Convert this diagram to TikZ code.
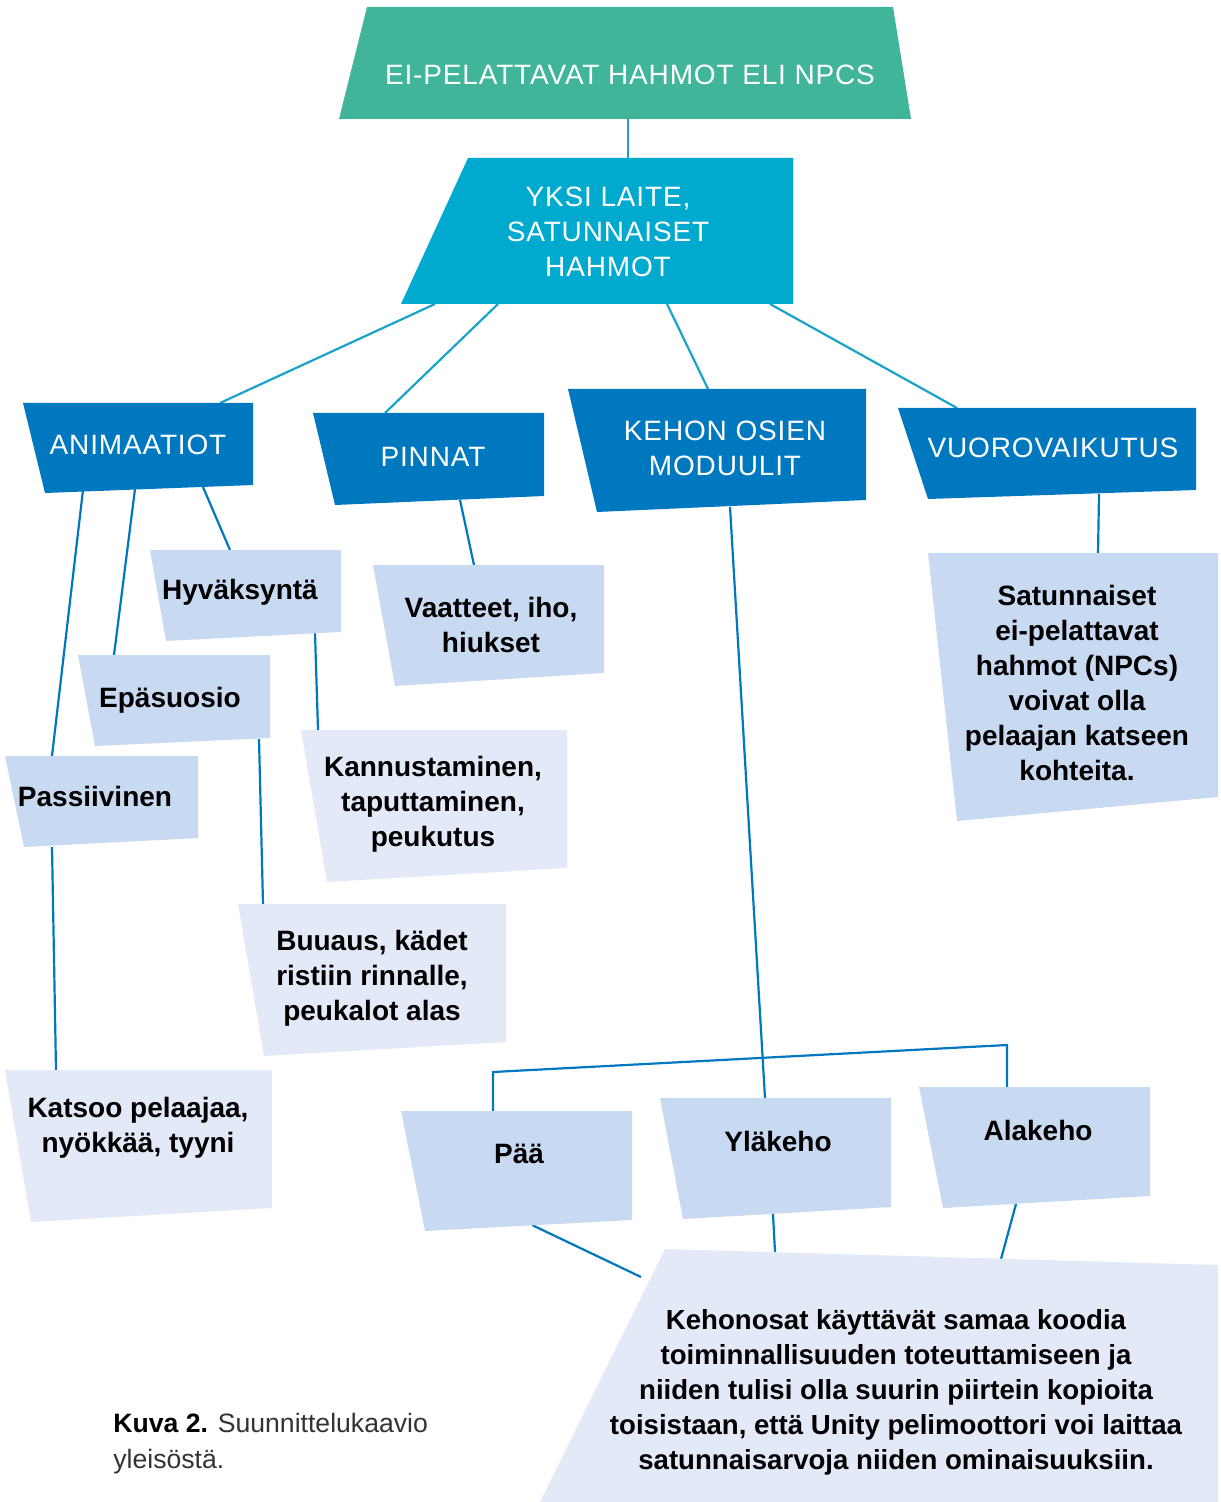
\documentclass[tikz,border=0pt]{standalone}
\usepackage{fontspec}
\setmainfont{Liberation Sans}
\definecolor{npcvihrea}{RGB}{65,181,154}
\definecolor{laite}{RGB}{0,170,206}
\definecolor{osa}{RGB}{0,120,192}
\definecolor{vaalea}{RGB}{200,218,241}
\definecolor{haalea}{RGB}{227,233,247}
\definecolor{syaani}{RGB}{26,163,201}
\begin{document}
\begin{tikzpicture}[x=0.5pt,y=-0.5pt,
    otsikko/.style={text=white,align=center,
      font=\fontsize{14}{17.5}\selectfont\addfontfeatures{LetterSpace=3}},
    teksti/.style={align=center,font=\fontsize{14}{17.5}\selectfont\bfseries},
    viiva/.style={osa,line width=1.1pt},
    yviiva/.style={syaani,line width=1.1pt}]
  \useasboundingbox (0,0) rectangle (1220,1502);
  % liitoskohdat
  \coordinate (npc-a) at (628,119);  \coordinate (laite-y) at (628,158);
  \coordinate (laite-a1) at (435,304); \coordinate (ani-y) at (220,403);
  \coordinate (laite-a2) at (498,304); \coordinate (pin-y) at (385,413);
  \coordinate (laite-a3) at (667,304); \coordinate (keh-y) at (708,389);
  \coordinate (laite-a4) at (770,304); \coordinate (vuo-y) at (957,408);
  \coordinate (ani-a1) at (83,490);  \coordinate (pas-y) at (52,756);
  \coordinate (pas-a) at (52,847);   \coordinate (kat-y) at (56,1070);
  \coordinate (ani-a2) at (135,489); \coordinate (epa-y) at (114,655);
  \coordinate (ani-a3) at (203,487); \coordinate (hyv-y) at (230,550);
  \coordinate (hyv-a) at (315,633);  \coordinate (kan-y) at (318,730);
  \coordinate (epa-a) at (259,739);  \coordinate (buu-y) at (263,904);
  \coordinate (pin-a) at (460,500);  \coordinate (vaa-y) at (474,565);
  \coordinate (keh-a) at (730,507);  \coordinate (yla-y) at (765,1098);
  \coordinate (paa-y) at (493,1111); \coordinate (ala-y) at (1007,1087);
  \coordinate (vuo-a) at (1099,494); \coordinate (sat-y) at (1098,553);
  \coordinate (paa-a) at (532,1225); \coordinate (kon-y1) at (641,1277);
  \coordinate (yla-a) at (773,1214); \coordinate (kon-y2) at (775,1252);
  \coordinate (ala-a) at (1016,1204); \coordinate (kon-y3) at (1001,1259);
  % viivat
  \draw [yviiva] (npc-a) -- (laite-y);
  \draw [yviiva] (laite-a1) -- (ani-y);
  \draw [yviiva] (laite-a2) -- (pin-y);
  \draw [yviiva] (laite-a3) -- (keh-y);
  \draw [yviiva] (laite-a4) -- (vuo-y);
  \draw [viiva] (ani-a1) -- (pas-y);
  \draw [viiva] (pas-a) -- (kat-y);
  \draw [viiva] (ani-a2) -- (epa-y);
  \draw [viiva] (ani-a3) -- (hyv-y);
  \draw [viiva] (hyv-a) -- (kan-y);
  \draw [viiva] (epa-a) -- (buu-y);
  \draw [viiva] (pin-a) -- (vaa-y);
  \draw [viiva] (keh-a) -- (yla-y);
  \draw [viiva] (paa-y) -- ++(0,-39) -- (1007,1045) -- (ala-y);
  \draw [viiva] (vuo-a) -- (sat-y);
  \draw [viiva] (paa-a) -- (kon-y1);
  \draw [viiva] (yla-a) -- (kon-y2);
  \draw [viiva] (ala-a) -- (kon-y3);
  % laatikot
  \fill [npcvihrea] (367,7) -- (893,7) -- (911,119) -- (339,119) -- cycle;
  \node [otsikko] (npc) at (630,75) {EI-PELATTAVAT HAHMOT ELI NPCS};
  \fill [laite] (468,158) -- (793,158) -- (793,304) -- (401,304) -- cycle;
  \node [otsikko] (laite) at (608,232) {YKSI LAITE,\\SATUNNAISET\\HAHMOT};
  \fill [osa] (23,403) -- (253,403) -- (253,485) -- (45,493) -- cycle;
  \node [otsikko] (ani) at (138,445) {ANIMAATIOT};
  \fill [osa] (313,413) -- (544,413) -- (544,496) -- (335,505) -- cycle;
  \node [otsikko] (pin) at (433,457) {PINNAT};
  \fill [osa] (568,389) -- (866,389) -- (866,500) -- (597,512) -- cycle;
  \node [otsikko] (keh) at (725,448) {KEHON OSIEN\\MODUULIT};
  \fill [osa] (898,408) -- (1196,408) -- (1196,490) -- (928,499) -- cycle;
  \node [otsikko] (vuo) at (1053,448) {VUOROVAIKUTUS};
  \fill [vaalea] (150,550) -- (341,550) -- (341,632) -- (166,641) -- cycle;
  \node [teksti] (hyv) at (240,592) {Hyväksyntä};
  \fill [vaalea] (78,655) -- (270,655) -- (270,738) -- (95,746) -- cycle;
  \node [teksti] (epa) at (170,700) {Epäsuosio};
  \fill [vaalea] (5,756) -- (198,756) -- (198,838) -- (24,847) -- cycle;
  \node [teksti] (pas) at (95,796) {Passiivinen};
  \fill [vaalea] (373,565) -- (604,565) -- (604,673) -- (395,686) -- cycle;
  \node [teksti] (vaa) at (491,625) {Vaatteet, iho,\\hiukset};
  \fill [haalea] (301,730) -- (567,730) -- (567,868) -- (327,882) -- cycle;
  \node [teksti] (kan) at (433,804) {Kannustaminen,\\taputtaminen,\\peukutus};
  \fill [haalea] (238,904) -- (506,904) -- (506,1042) -- (264,1056) -- cycle;
  \node [teksti] (buu) at (372,978) {Buuaus, kädet\\ristiin rinnalle,\\peukalot alas};
  \fill [haalea] (5,1070) -- (272,1070) -- (272,1208) -- (31,1222) -- cycle;
  \node [teksti] (kat) at (138,1128) {Katsoo pelaajaa,\\nyökkää, tyyni};
  \fill [vaalea] (928,553) -- (1218,553) -- (1218,797) -- (957,821) -- cycle;
  \node [teksti] (sat) at (1077,683) {Satunnaiset\\ei-pelattavat\\hahmot (NPCs)\\voivat olla\\pelaajan katseen\\kohteita.};
  \fill [vaalea] (401,1111) -- (632,1111) -- (632,1220) -- (425,1231) -- cycle;
  \node [teksti] (paa) at (519,1154) {Pää};
  \fill [vaalea] (660,1098) -- (891,1098) -- (891,1207) -- (683,1219) -- cycle;
  \node [teksti] (yla) at (778,1141) {Yläkeho};
  \fill [vaalea] (919,1087) -- (1150,1087) -- (1150,1196) -- (943,1208) -- cycle;
  \node [teksti] (ala) at (1038,1130) {Alakeho};
  \fill [haalea] (665,1249) -- (1218,1265) -- (1218,1502) -- (540,1502) -- cycle;
  \node [teksti,font=\fontsize{13.8}{17.5}\selectfont\bfseries] (kon) at (896,1392) {Kehonosat käyttävät samaa koodia\\toiminnallisuuden toteuttamiseen ja\\niiden tulisi olla suurin piirtein kopioita\\toisistaan, että Unity pelimoottori voi laittaa\\satunnaisarvoja niiden ominaisuuksiin.};
  % kuvateksti
  \node [anchor=west,align=left,inner sep=0pt,text=black!80,font=\fontsize{13.3}{18}\selectfont]
    (kuva) at (113,1444) {\textcolor{black}{\textbf{Kuva 2.}} Suunnittelukaavio\\yleisöstä.};
\end{tikzpicture}
\end{document}
